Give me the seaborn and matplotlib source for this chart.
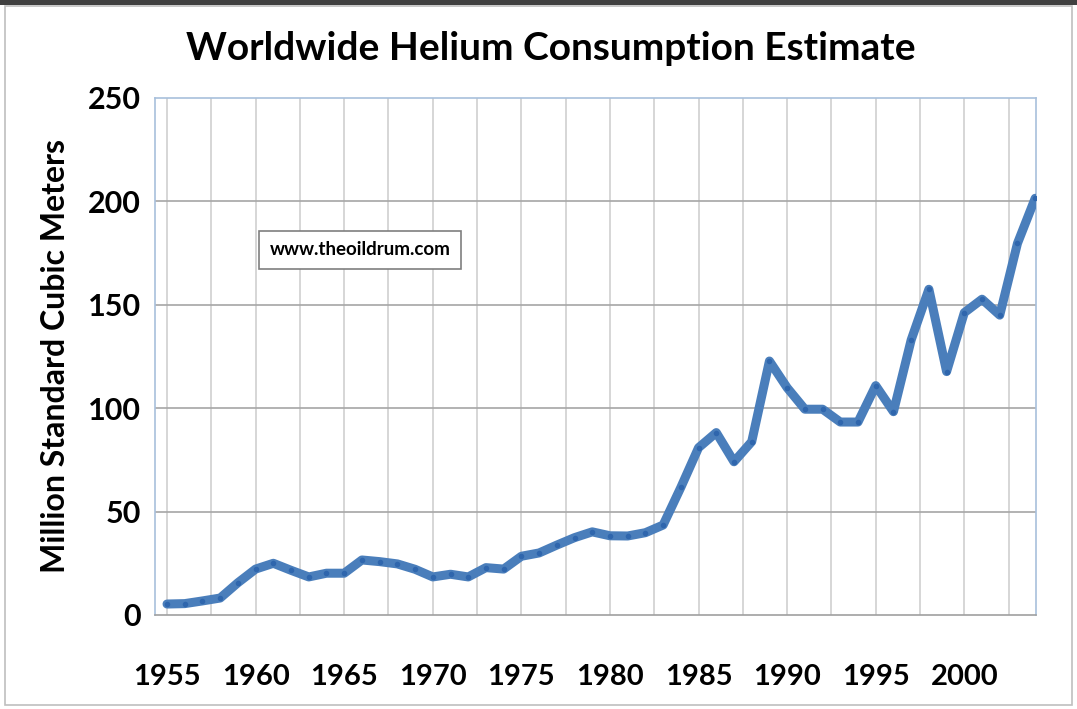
import numpy as np
import pandas as pd
import seaborn as sns
import matplotlib.pyplot as plt
from matplotlib.patches import Rectangle

years = list(range(1955, 2005))
consumption = [5.3, 5.5, 6.8, 8.2, 15.6, 22.2, 25.0, 21.6, 18.4, 20.2,
               20.2, 26.6, 25.8, 24.7, 22.1, 18.4, 19.7, 18.4, 22.9, 22.2,
               28.4, 30.0, 33.8, 37.4, 40.2, 38.3, 38.2, 39.8, 43.5, 61.7,
               80.9, 88.2, 74.1, 83.8, 122.8, 109.9, 99.5, 99.5, 93.3, 93.3,
               110.9, 98.3, 133.0, 157.5, 117.7, 146.2, 152.7, 145.0, 179.7, 201.5]
xticks = [1955, 1960, 1965, 1970, 1975, 1980, 1985, 1990, 1995, 2000]
yticks = [0, 50, 100, 150, 200, 250]

df = pd.DataFrame({"year": years, "helium": consumption})

sns.set_style("white")
plt.rcParams['font.family'] = ['Lato', 'DejaVu Sans']
plt.rcParams['text.color'] = 'black'
plt.rcParams['axes.labelcolor'] = 'black'

fig = plt.figure(figsize=(10.77, 7.09), dpi=100)
ax = fig.add_axes([0.1439, 0.1326, 0.962 - 0.1439, 0.8618 - 0.1326])

# vertical grid every 2.5 years
for gx in np.arange(1955, 2004, 2.5):
    ax.axvline(gx, color="#d0d0d0", lw=1.2, zorder=0)
for gy in yticks[1:-1]:
    ax.axhline(gy, color="#a6a6a6", lw=1.2, zorder=0)

sns.lineplot(data=df, x="year", y="helium", ax=ax, color="#4a7ebb", lw=6.5,
             marker="o", markersize=4, markeredgewidth=0,
             markerfacecolor="#2f66ad", zorder=3)

ax.set_xlim(1954.32, 2004.05)
ax.set_ylim(0, 250)
ax.set_xticks(xticks)
ax.set_yticks(yticks)
ax.set_xticklabels([str(t) for t in xticks], fontsize=21, fontweight="bold")
ax.set_yticklabels([str(t) for t in yticks], fontsize=22, fontweight="bold")
ax.tick_params(axis="x", direction="out", length=7, width=1, color="#a0a0a0",
               labelcolor="black", pad=28)
ax.tick_params(axis="y", length=0, pad=10, labelcolor="black")

for side in ["top", "right", "left"]:
    ax.spines[side].set_color("#a8c0dc")
    ax.spines[side].set_linewidth(1.2)
ax.spines["bottom"].set_color("#a0a0a0")
ax.spines["bottom"].set_linewidth(1.2)

ax.set_xlabel("")
ax.set_ylabel("Million Standard Cubic Meters", fontsize=23, fontweight="bold", labelpad=13)
fig.text(0.511, 0.932, "Worldwide Helium Consumption Estimate", ha="center", va="center",
         fontsize=28, fontweight="bold")

ax.text(1965.9, 176.5, "www.theoildrum.com", ha="center", va="center", fontsize=13.5,
        fontweight="bold", zorder=5,
        bbox=dict(boxstyle="square,pad=0.55", fc="white", ec="#7f7f7f", lw=1.2))

# outer frame
fig.patches.append(Rectangle((0.005, 0.006), 0.99, 0.985, transform=fig.transFigure,
                             fill=False, ec="#bfbfbf", lw=1.2))
fig.patches.append(Rectangle((0, 0.993), 1, 0.007, transform=fig.transFigure,
                             fill=True, fc="#404040", ec="none"))

fig.savefig("out.png", dpi=100)
